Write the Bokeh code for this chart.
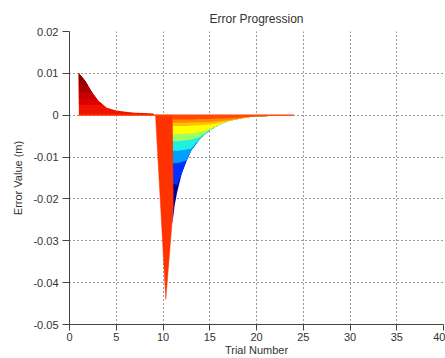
import numpy as np
from bokeh.plotting import figure
from bokeh.models import Range1d
from bokeh.embed import file_html
from bokeh.resources import INLINE

# ---- ticks ----
x_ticks = [0, 5, 10, 15, 20, 25, 30, 35, 40]
y_ticks = [-0.05, -0.04, -0.03, -0.02, -0.01, 0.0, 0.01, 0.02]
y_tick_labels = ["-0.05", "-0.04", "-0.03", "-0.02", "-0.01", "0", "0.01", "0.02"]

# ---- phase 1 (trials 1..9): positive error decaying ----
p1_x = [1.0, 1.3, 1.7, 2.0, 2.4, 3.1, 4.0, 5.0, 6.0, 7.0, 8.0, 9.0]
p1_v = [0.0100, 0.0092, 0.0081, 0.0070, 0.0055, 0.0034, 0.0018, 0.0011, 0.0008, 0.0006, 0.0005, 0.0004]
p1_levels = [0.0025, 0.004, 0.0055, 0.007, 0.0085]

# ---- phase 2 spike ----
spike_x = [9.2, 10.3, 11.1, 11.0]
spike_v = [0.0, -0.044, -0.022, 0.0]

# ---- phase 2 recovery layers (outer -> inner) ----
fan_x = [11.0, 11.25, 11.5, 12.0, 12.5, 13.0, 14.0, 15.0, 16.0, 17.0, 18.0, 19.0, 20.0, 22.0, 24.0]
fan_100 = [-0.0260, -0.0215, -0.0185, -0.0140, -0.0110, -0.0085, -0.0055, -0.0036, -0.0023, -0.0014, -0.0009, -0.0005, -0.0003, -0.0001, 0.0]
fan_085 = [-0.0160, -0.0165, -0.0168, -0.0140, -0.0110, -0.0085, -0.0055, -0.0036, -0.0023, -0.0014, -0.0009, -0.0005, -0.0003, -0.0001, 0.0]
fan_070 = [-0.0115, -0.0115, -0.0114, -0.0112, -0.0108, -0.0085, -0.0055, -0.0036, -0.0023, -0.0014, -0.0009, -0.0005, -0.0003, -0.0001, 0.0]
fan_060 = [-0.0085, -0.0085, -0.0085, -0.0084, -0.0082, -0.0080, -0.0055, -0.0036, -0.0023, -0.0014, -0.0009, -0.0005, -0.0003, -0.0001, 0.0]
fan_050 = [-0.0062, -0.0062, -0.0062, -0.0061, -0.0060, -0.0058, -0.0051, -0.0036, -0.0023, -0.0014, -0.0009, -0.0005, -0.0003, -0.0001, 0.0]
fan_040 = [-0.0045, -0.0045, -0.0045, -0.0045, -0.0044, -0.0043, -0.0040, -0.0033, -0.0023, -0.0014, -0.0009, -0.0005, -0.0003, -0.0001, 0.0]
fan_030 = [-0.0026, -0.0026, -0.0026, -0.0026, -0.0026, -0.0025, -0.0024, -0.0022, -0.0019, -0.0014, -0.0009, -0.0005, -0.0003, -0.0001, 0.0]
fan_020 = [-0.0018, -0.0018, -0.0018, -0.0018, -0.0018, -0.0017, -0.0017, -0.0016, -0.0014, -0.0012, -0.0009, -0.0005, -0.0003, -0.0001, 0.0]
fan_010 = [-0.0010, -0.0010, -0.0010, -0.0010, -0.0010, -0.0010, -0.0009, -0.0009, -0.0008, -0.0007, -0.0006, -0.0004, -0.0003, -0.0001, 0.0]

fan_layers = [fan_100, fan_085, fan_070, fan_060, fan_050, fan_040, fan_030, fan_020, fan_010]
fan_colors = ["#00008f", "#0030ff", "#00a0ff", "#20f0e0", "#a0ff60", "#ffff00", "#ffc000", "#ff8800", "#ff4a00"]
p1_colors = ["#dc0000", "#c40000", "#ac0000", "#960000", "#820000"]

p = figure(width=445, height=358, x_range=Range1d(0, 40), y_range=Range1d(-0.05, 0.02),
           output_backend="svg", toolbar_location=None, title="Error Progression",
           min_border_left=69, min_border_right=2, min_border_top=31, min_border_bottom=33)
p.outline_line_color = None
p.background_fill_color = "white"
p.border_fill_color = "white"

p.title.align = "center"
p.title.text_font = "Liberation Sans"
p.title.text_font_size = "12px"
p.title.text_font_style = "normal"
p.title.text_color = "#333333"
p.title.standoff = 12

for ax in (p.xaxis[0], p.yaxis[0]):
    ax.axis_line_color = "#444444"
    ax.major_tick_line_color = "#444444"
    ax.minor_tick_line_color = None
    ax.major_tick_in = 0
    ax.major_tick_out = 6
    ax.major_label_text_font = "Liberation Sans"
    ax.major_label_text_font_size = "11px"
    ax.major_label_text_color = "#333333"
    ax.axis_label_text_font = "Liberation Sans"
    ax.axis_label_text_font_size = "11px"
    ax.axis_label_text_font_style = "normal"
    ax.axis_label_text_color = "#333333"

p.xaxis.ticker = x_ticks
p.yaxis.ticker = y_ticks
p.yaxis.major_label_overrides = {t: l for t, l in zip(y_ticks, y_tick_labels)}
p.xaxis.axis_label = "Trial Number"
p.yaxis.axis_label = "Error Value (m)"
p.xaxis.major_label_standoff = 2
p.xaxis.axis_label_standoff = 0
p.yaxis.major_tick_out = 7
p.yaxis.major_label_standoff = 4
p.yaxis.axis_label_standoff = 6

for g in (p.xgrid[0], p.ygrid[0]):
    g.grid_line_color = "#222222"
    g.grid_line_dash = "1 3"
    g.grid_line_alpha = 0.9

# phase 1: base surface plus darker bands above each level (clipped to the curve)
p.varea(x=p1_x, y1=0, y2=p1_v, fill_color="#f01400")
xs1 = np.array(p1_x)
vs1 = np.array(p1_v)
for lev, col in zip(p1_levels, p1_colors):
    inside = vs1 > lev
    xc = float(np.interp(lev, vs1[::-1], xs1[::-1]))
    px = [xs1[0]] + list(xs1[inside]) + [xc]
    py = [lev] + list(vs1[inside]) + [lev]
    p.patch(px, py, fill_color=col, line_color=None)

# phase 2 recovery layers
for lay, col in zip(fan_layers, fan_colors):
    p.varea(x=fan_x, y1=0, y2=lay, fill_color=col)

# spike
p.patch(spike_x, spike_v, fill_color="#ff3300", line_color="#ff3300", line_width=0.5)

# zero line through the surface
p.line([p1_x[0], fan_x[-1]], [0, 0], line_color="#ff4000", line_width=1.2)

open("out.html", "w").write(file_html(p, INLINE))
